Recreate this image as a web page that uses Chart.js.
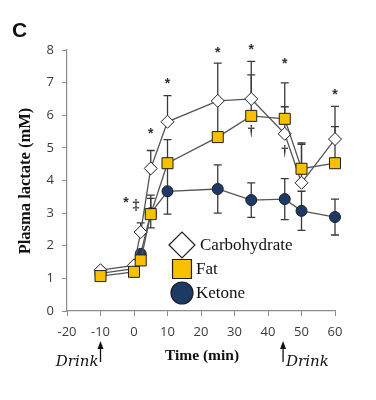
<!DOCTYPE html>
<html>
<head>
<meta charset="utf-8">
<script src="https://cdn.jsdelivr.net/npm/chart.js@4.4.1/dist/chart.umd.min.js"></script>
<style>
  body { margin: 0; background: #fff; }
  #wrap { width: 376px; height: 400px; }
</style>
</head>
<body>
<div id="wrap"><canvas id="lactateChart" width="376" height="400"></canvas></div>
<script>
// time points (min) and plasma lactate means (mM)
const times = [-10, 0, 2, 5, 10, 25, 35, 45, 50, 60];
const carbohydrate = [1.25, 1.4, 2.42, 4.37, 5.8, 6.44, 6.5, 5.43, 3.93, 5.27];
const fat = [1.07, 1.2, 1.55, 2.97, 4.53, 5.33, 5.98, 5.89, 4.36, 4.53];
const ketone = [1.15, 1.3, 1.75, 3.0, 3.67, 3.74, 3.4, 3.43, 3.07, 2.88];

// error bars (SD); carb + fat drawn upward only, ketone both ways
const carbohydrateErr = [0.08, 0.08, 0.28, 0.55, 0.8, 1.16, 1.15, 0.83, 1.22, 1.0];
const fatErr = [0.08, 0.08, 0.15, 0.58, 0.72, 1.1, 1.26, 1.1, 0.75, 1.12];
const ketoneErr = [0.08, 0.08, 0.12, 0.45, 0.7, 0.74, 0.53, 0.63, 0.6, 0.55];

// significance marks: [time, value, symbol]
const marks = [
    [5, 5.5, '*'], [10, 7.05, '*'], [25, 8.0, '*'], [35, 8.1, '*'],
    [45, 7.65, '*'], [60, 6.7, '*'], [35, 5.5, '†'], [45, 4.9, '†']
];

const xTicks = [-20, -10, 0, 10, 20, 30, 40, 50, 60];
const yTicks = [0, 1, 2, 3, 4, 5, 6, 7, 8];

const lineColor = '#555555';
const edgeColor = '#1e1e1e';
const fatColor = '#f7c100';
const ketoneColor = '#1d3a66';

function toPoints(values) {
    return times.map((t, i) => ({ x: t, y: values[i] }));
}

// Draw error bars behind the lines/points
const errorBars = {
    id: 'errorBars',
    beforeDatasetsDraw(chart) {
        const ctx = chart.ctx;
        const xs = chart.scales.x, ys = chart.scales.y;
        ctx.save();
        ctx.strokeStyle = '#3a3a3a';
        ctx.lineWidth = 1.3;
        chart.data.datasets.forEach(ds => {
            ds.err.forEach((e, i) => {
                const px = xs.getPixelForValue(times[i]);
                const top = ys.getPixelForValue(ds.means[i] + e);
                const bot = ds.bothWays ? ys.getPixelForValue(ds.means[i] - e) : ys.getPixelForValue(ds.means[i]);
                ctx.beginPath();
                ctx.moveTo(px, top); ctx.lineTo(px, bot);
                ctx.moveTo(px - 4, top); ctx.lineTo(px + 4, top);
                if (ds.bothWays) { ctx.moveTo(px - 4, bot); ctx.lineTo(px + 4, bot); }
                ctx.stroke();
            });
        });
        ctx.restore();
    }
};

// Texts, legend, marks and Drink arrows
const decorations = {
    id: 'decorations',
    afterDraw(chart) {
        const ctx = chart.ctx;
        const xs = chart.scales.x, ys = chart.scales.y;
        ctx.save();
        ctx.fillStyle = '#111';

        // panel letter
        ctx.font = 'bold 21px "Liberation Sans", Arial, sans-serif';
        ctx.textAlign = 'left';
        ctx.textBaseline = 'alphabetic';
        ctx.fillText('C', 12, 37);

        // y title
        ctx.save();
        ctx.translate(30, 181);
        ctx.rotate(-Math.PI / 2);
        ctx.textAlign = 'center';
        ctx.textBaseline = 'alphabetic';
        ctx.font = 'bold 16.5px "Liberation Serif", "Times New Roman", serif';
        ctx.fillText('Plasma lactate (mM)', 0, 0);
        ctx.restore();

        // x title
        ctx.textAlign = 'center';
        ctx.font = 'bold 15.5px "Liberation Serif", "Times New Roman", serif';
        ctx.fillText('Time (min)', 202, 360);

        // significance marks
        ctx.fillStyle = '#2a2f3a';
        ctx.textBaseline = 'middle';
        marks.forEach(([t, v, s]) => {
            ctx.font = s === '*' ? 'bold 14px "Liberation Sans", Arial, sans-serif' : 'bold 14px "Liberation Serif", serif';
            ctx.fillText(s, xs.getPixelForValue(t), ys.getPixelForValue(v) + (s === '*' ? 3 : 0));
        });
        ctx.font = 'bold 14px "Liberation Sans", Arial, sans-serif';
        ctx.fillText('*', 126, 203);
        ctx.font = 'bold 14px "Liberation Serif", serif';
        ctx.fillText('‡', 136, 205);

        // Drink arrows
        ctx.fillStyle = '#111';
        ctx.strokeStyle = '#111';
        ctx.lineWidth = 1.3;
        [[-10, 'right'], [44.5, 'left']].forEach(([t, side]) => {
            const px = xs.getPixelForValue(t);
            ctx.beginPath();
            ctx.moveTo(px, 345); ctx.lineTo(px, 362);
            ctx.stroke();
            ctx.beginPath();
            ctx.moveTo(px, 341); ctx.lineTo(px - 3, 349); ctx.lineTo(px + 3, 349);
            ctx.closePath();
            ctx.fill();
            ctx.font = 'italic 15px "DejaVu Serif", serif';
            ctx.textBaseline = 'alphabetic';
            ctx.textAlign = side;
            ctx.fillText('Drink', side === 'right' ? px - 2 : px + 3, 366);
        });

        // legend
        const items = [
            ['Carbohydrate', 'rectRot', 13, '#ffffff', 245],
            ['Fat', 'rect', 13.4, fatColor, 269],
            ['Ketone', 'circle', 11, ketoneColor, 293]
        ];
        items.forEach(([label, style, r, fill, y]) => {
            ctx.fillStyle = fill;
            ctx.strokeStyle = edgeColor;
            ctx.lineWidth = 1.2;
            Chart.helpers.drawPoint(ctx, { pointStyle: style, radius: r, borderWidth: 1.2, rotation: 0 }, 182, y);
            ctx.fillStyle = '#111';
            ctx.font = '17px "Liberation Serif", "Times New Roman", serif';
            ctx.textAlign = 'left';
            ctx.textBaseline = 'middle';
            ctx.fillText(label, style === 'rectRot' ? 200 : 196, y + 1);
        });
        ctx.restore();
    }
};

const ctx = document.getElementById('lactateChart');
new Chart(ctx, {
    type: 'line',
    data: {
        datasets: [
            {
                label: 'Fat', data: toPoints(fat), means: fat, err: fatErr, bothWays: false,
                borderColor: lineColor, borderWidth: 1.3, clip: false,
                pointStyle: 'rect', pointRadius: 7.8, pointBackgroundColor: fatColor,
                pointBorderColor: edgeColor, pointBorderWidth: 1
            },
            {
                label: 'Carbohydrate', data: toPoints(carbohydrate), means: carbohydrate, err: carbohydrateErr, bothWays: false,
                borderColor: lineColor, borderWidth: 1.3, clip: false,
                pointStyle: 'rectRot', pointRadius: 6.5, pointBackgroundColor: '#ffffff',
                pointBorderColor: edgeColor, pointBorderWidth: 1
            },
            {
                label: 'Ketone', data: toPoints(ketone), means: ketone, err: ketoneErr, bothWays: true,
                borderColor: lineColor, borderWidth: 1.3, clip: false,
                pointStyle: 'circle', pointRadius: 5.5, pointBackgroundColor: ketoneColor,
                pointBorderColor: edgeColor, pointBorderWidth: 1
            }
        ]
    },
    options: {
        responsive: false,
        animation: false,
        layout: { padding: { left: 0, top: 50, right: 41, bottom: 0 } },
        plugins: {
            legend: { display: false },
            tooltip: { enabled: false }
        },
        scales: {
            x: {
                type: 'linear', min: -20, max: 60,
                afterBuildTicks: s => { s.ticks = xTicks.map(v => ({ value: v })); },
                afterFit: s => { s.height = 89; },
                grid: { drawOnChartArea: false, drawTicks: true, tickLength: 5, color: '#8c8c8c' },
                border: { color: '#8c8c8c', width: 1.2 },
                ticks: { color: '#3a3a3a', padding: 8, font: { family: '"Open Sans", sans-serif', size: 13 } }
            },
            y: {
                min: 0, max: 8,
                afterBuildTicks: s => { s.ticks = yTicks.map(v => ({ value: v })); },
                afterFit: s => { s.width = 67; },
                grid: { drawOnChartArea: false, drawTicks: true, tickLength: 5, color: '#8c8c8c' },
                border: { color: '#8c8c8c', width: 1.2 },
                ticks: { color: '#3a3a3a', padding: 8, font: { family: '"Open Sans", sans-serif', size: 13 } }
            }
        }
    },
    plugins: [errorBars, decorations]
});
</script>
</body>
</html>
